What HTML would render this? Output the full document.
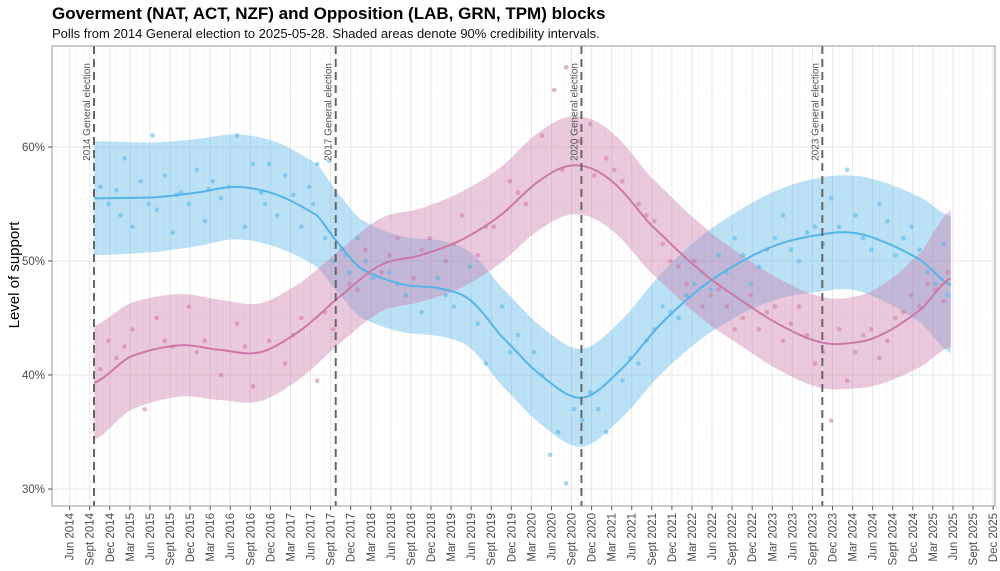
<!DOCTYPE html>
<html><head><meta charset="utf-8">
<style>
body{margin:0;background:#fff;font-family:"Liberation Sans",sans-serif;}
svg{display:block}
</style></head>
<body>
<svg id="chart" width="1000" height="571">
<text x="52" y="19" font-size="17" font-weight="bold" fill="#000">Goverment (NAT, ACT, NZF) and Opposition (LAB, GRN, TPM) blocks</text>
<text x="52" y="38" font-size="13" fill="#111">Polls from 2014 General election to 2025-05-28. Shaded areas denote 90% credibility intervals.</text>
<text transform="translate(19,275) rotate(-90)" text-anchor="middle" font-size="15" fill="#000">Level of support</text>
</svg>
<script>
const yTicks=[30,40,50,60];
const elections=[{d:2014.72,l:"2014 General election"},{d:2017.73,l:"2017 General election"},{d:2020.79,l:"2020 General election"},{d:2023.79,l:"2023 General election"}];
const govYears=[2014.72,2015.5,2016,2016.5,2017,2017.5,2017.73,2018.03,2018.53,2019.03,2019.4,2019.78,2020.28,2020.79,2021.27,2021.77,2022.27,2022.77,2023.26,2023.76,2024.14,2024.51,2025.01,2025.39];
const govValues=[55.5,55.6,56,56.5,55.8,54,51.8,49.4,48,47.6,46.6,43.5,40,38,40.4,44.4,47.6,49.9,51.5,52.3,52.5,51.8,50.1,47.9];
const govHalf=[5,4.8,4.7,4.6,4.6,4.5,4.4,4.3,4.2,4.2,4.2,4.3,4.3,4.3,4.3,4.4,4.5,4.6,4.8,5,5,5.2,5.5,6];
const oppYears=[2014.72,2015.17,2015.79,2016.29,2016.79,2017.29,2017.73,2018.28,2018.78,2019.28,2019.78,2020.28,2020.71,2021.15,2021.65,2022.27,2022.77,2023.26,2023.76,2024.14,2024.51,2025.01,2025.39];
const oppValues=[39.3,41.6,42.6,42.2,42,43.9,46.6,49.6,50.5,51.8,54,57.1,58.4,57.1,53.2,49.2,46.6,44.4,42.9,42.8,43.5,45.7,48.5];
const oppHalf=[5,4.7,4.5,4.4,4.3,4.2,4.1,4.1,4.1,4.2,4.2,4.3,4.3,4.3,4.2,4.1,4.0,4.0,4.0,4.0,4.3,5,6];
const govPolls=[[2014.8,56.5],[2014.9,55],[2015.0,56.2],[2015.1,59],[2015.2,53],[2015.3,57],[2015.4,55],[2015.45,61],[2015.5,54.5],[2015.6,57.5],[2015.7,52.5],[2015.8,56],[2015.9,55],[2016.0,58],[2016.1,53.5],[2016.2,57],[2016.3,55.5],[2016.4,56.5],[2016.5,61],[2016.6,53],[2016.7,58.5],[2016.8,56],[2016.9,58.5],[2017.0,54],[2017.1,57.5],[2017.2,55.8],[2017.3,53],[2017.4,56.5],[2017.5,58.5],[2017.6,52],[2017.65,58.8],[2017.7,50],[2017.8,51],[2017.9,49],[2018.0,52],[2018.2,48.5],[2018.4,49],[2018.6,47],[2018.8,45.5],[2019.0,48.5],[2019.2,46],[2019.4,49.5],[2019.6,41],[2019.8,46],[2020.0,43.5],[2020.2,42],[2020.4,33],[2020.5,35],[2020.6,30.5],[2020.7,37],[2020.8,36],[2020.9,38.5],[2021.1,35],[2021.3,39.5],[2021.5,41],[2021.7,44],[2021.9,45.5],[2022.1,47],[2022.3,49],[2022.5,50.5],[2022.7,52],[2022.9,48],[2023.1,51],[2023.3,54],[2023.5,50],[2023.7,53],[2023.9,55.5],[2024.1,58],[2024.3,52],[2024.5,55],[2024.7,50.5],[2024.9,53],[2025.1,49],[2025.3,51.5],
[2015.05,54],[2015.75,55.8],[2016.15,56.3],[2016.85,55],[2017.45,55],[2017.85,50.5],[2018.1,50],[2018.5,48],[2019.1,47],[2019.5,44.5],[2019.9,42],[2020.3,40],[2021.0,37],[2021.4,41.5],[2021.6,43],[2021.8,46],[2022.0,45],[2022.2,48],[2022.4,47.5],[2022.6,49],[2022.8,50.5],[2023.0,49.5],[2023.2,52],[2023.4,51],[2023.6,52.5],[2023.8,51.5],[2024.0,53],[2024.2,54],[2024.4,51],[2024.6,53.5],[2024.8,52],[2025.0,51],[2025.2,48],[2025.35,47]];
const oppPolls=[[2014.8,40.5],[2014.9,43],[2015.0,41.5],[2015.2,44],[2015.35,37],[2015.5,45],[2015.7,42.5],[2015.9,46],[2016.1,43],[2016.3,40],[2016.5,44.5],[2016.7,39],[2016.9,43],[2017.1,41],[2017.3,45],[2017.5,39.5],[2017.7,44],[2017.9,48],[2018.1,51],[2018.3,49],[2018.5,52],[2018.7,48.5],[2018.9,52],[2019.1,50],[2019.3,54],[2019.5,50.5],[2019.7,53],[2019.9,57],[2020.1,55],[2020.3,61],[2020.45,65],[2020.6,67],[2020.75,60.5],[2020.9,62],[2021.1,59],[2021.3,57],[2021.5,55],[2021.7,53.5],[2021.9,50],[2022.1,48],[2022.3,46],[2022.5,47.5],[2022.7,44],[2022.9,47],[2023.1,45.5],[2023.3,43],[2023.5,46],[2023.7,41],[2023.9,36],[2024.1,39.5],[2024.3,43.5],[2024.5,41.5],[2024.7,45],[2024.9,47],[2025.1,48],[2025.3,46.5],
[2015.1,42.5],[2015.6,43],[2016.0,42],[2016.6,42.5],[2017.2,43.5],[2017.6,45.5],[2018.0,47.5],[2018.4,50.5],[2018.8,51],[2019.2,51.5],[2019.6,53],[2020.0,56],[2020.55,58],[2020.95,57.5],[2021.2,58],[2021.6,54],[2021.8,51.5],[2022.0,49.5],[2022.2,50],[2022.4,47],[2022.6,46],[2022.8,45],[2023.0,44],[2023.2,46],[2023.4,44.5],[2023.6,43.5],[2023.8,42],[2024.0,44],[2024.2,42],[2024.4,44],[2024.6,43],[2024.8,45.5],[2025.0,46],[2025.2,47.5],[2025.35,49]];
const tickMonths=["Mar","Jun","Sept","Dec"];
const NS="http://www.w3.org/2000/svg";
const svg=document.getElementById('chart');
const L=52,R=995,T=46,B=506;
const x=d=>94+(d-2014.72)*80.3;
const y=v=>261-(v-50)*11.4;
function mk(t,a,p){const e=document.createElementNS(NS,t);for(const k in a)e.setAttribute(k,a[k]);(p||svg).appendChild(e);return e;}
const panel=mk('rect',{x:L,y:T,width:R-L,height:B-T,fill:'#fff',stroke:'none'});


const grid=mk('g',{});


for(let v=25;v<=70;v+=5){const yy=y(v);if(yy<T||yy>B)continue;mk('line',{x1:L,x2:R,y1:yy,y2:yy,stroke:v%10==0?'#e6e6e6':'#f1f1f1','stroke-width':v%10==0?1:0.6},grid);}
const xLabels=[];
for(let yr=2014;yr<=2025;yr++){for(let m=0;m<12;m++){const xx=x(yr+(m)/12);if(xx<L||xx>R)continue;const major=(m%3==2);mk('line',{x1:xx,x2:xx,y1:T,y2:B,stroke:major?'#e6e6e6':'#f3f3f3','stroke-width':major?1:0.6},grid);if(major){const lbl=tickMonths[(m-2)/3]+" "+yr;if(yr==2014&&m<5)continue;xLabels.push([xx,lbl]);}}}
function interp(xs,vs,d){let i=0;while(i<xs.length-2&&d>xs[i+1])i++;
  const p0=vs[Math.max(i-1,0)],p1=vs[i],p2=vs[i+1],p3=vs[Math.min(i+2,vs.length-1)];
  const t=(d-xs[i])/(xs[i+1]-xs[i]);const t2=t*t,t3=t2*t;
  return 0.5*((2*p1)+(-p0+p2)*t+(2*p0-5*p1+4*p2-p3)*t2+(-p0+3*p1-3*p2+p3)*t3);}
function bandPath(ys,vs,hs){
  const N=200,up=[],lo=[];
  for(let i=0;i<=N;i++){const d=ys[0]+(ys[ys.length-1]-ys[0])*i/N;const v=interp(ys,vs,d),h=interp(ys,hs,d);up.push([x(d),y(v+h)]);lo.push([x(d),y(v-h)]);}
  return 'M'+up.map(p=>p.join(',')).join('L')+'L'+lo.reverse().map(p=>p.join(',')).join('L')+'Z';
}
function linePath(ys,vs){let s='';const N=200;for(let i=0;i<=N;i++){const d=ys[0]+(ys[ys.length-1]-ys[0])*i/N;s+=(i?'L':'M')+x(d)+','+y(interp(ys,vs,d));}return s;}
const gb=mk('path',{d:bandPath(govYears,govValues,govHalf),fill:'#56B4E9','fill-opacity':0.4});


const ob=mk('path',{d:bandPath(oppYears,oppValues,oppHalf),fill:'#CC79A7','fill-opacity':0.4});


govPolls.forEach(p=>{const c=mk('circle',{cx:x(p[0]),cy:y(p[1]),r:2.3,fill:'#56B4E9','fill-opacity':0.55});

});
oppPolls.forEach(p=>{const c=mk('circle',{cx:x(p[0]),cy:y(p[1]),r:2.3,fill:'#CC79A7','fill-opacity':0.55});

});
const gl=mk('path',{d:linePath(govYears,govValues),fill:'none',stroke:'#56B4E9','stroke-width':2});


const ol=mk('path',{d:linePath(oppYears,oppValues),fill:'none',stroke:'#CC79A7','stroke-width':2});


elections.forEach(e=>{const xx=x(e.d);
const ln=mk('line',{x1:xx,x2:xx,y1:T,y2:B,stroke:'#666','stroke-width':2,'stroke-dasharray':'8,5'});


const t=mk('text',{transform:`translate(${xx-4},63) rotate(-90)`,'text-anchor':'end','font-size':10,fill:'#555'});t.textContent=e.l;

});
mk('rect',{x:L,y:T,width:R-L,height:B-T,fill:'none',stroke:'#999','stroke-width':1});
yTicks.forEach(v=>{const yy=y(v);mk('line',{x1:L-4,x2:L,y1:yy,y2:yy,stroke:'#555'});
const t=mk('text',{x:L-7,y:yy+4,'text-anchor':'end','font-size':11.5,fill:'#4d4d4d'});t.textContent=v+'%';

});
xLabels.forEach(([xx,l])=>{mk('line',{x1:xx,x2:xx,y1:B,y2:B+4,stroke:'#555'});
const t=mk('text',{transform:`translate(${xx+4},${B+7}) rotate(-90)`,'text-anchor':'end','font-size':11.5,fill:'#4d4d4d'});t.textContent=l;

});
</script>
</body></html>
